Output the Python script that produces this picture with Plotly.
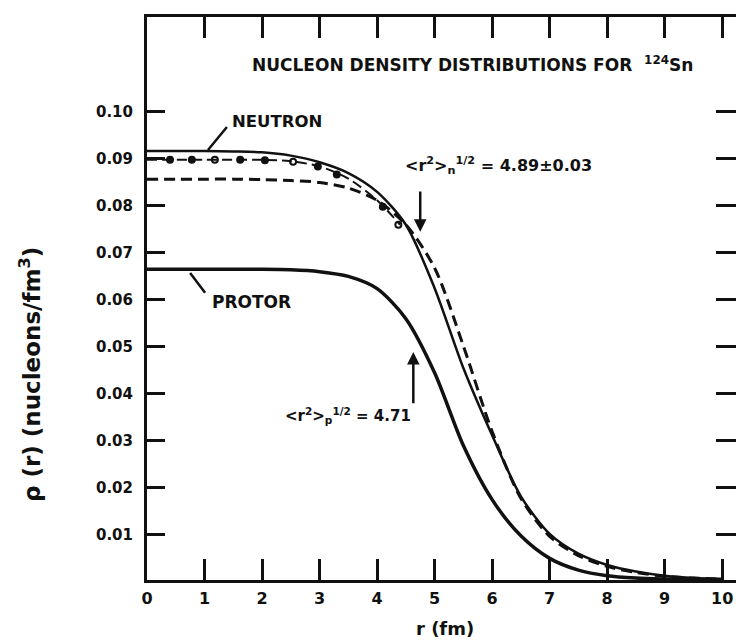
import plotly.graph_objects as go

# ---------------- data ----------------
r_grid = [0, 0.5, 1.0, 1.5, 2.0, 2.5, 3.0, 3.5, 4.0, 4.5, 5.0, 5.5, 6.0, 6.5, 7.0, 7.5, 8.0, 8.5, 9.0, 9.5, 10.0]

neutron_solid = [0.0917, 0.0917, 0.0917, 0.0916, 0.0914, 0.0907, 0.0893, 0.0870, 0.0830, 0.0760,
                 0.0625, 0.0455, 0.0312, 0.0182, 0.0102, 0.0060, 0.0036, 0.0022, 0.0013, 0.0008, 0.0006]

neutron_dashed = [0.0857, 0.0857, 0.0857, 0.0857, 0.0856, 0.0854, 0.0850, 0.0838, 0.0812, 0.0760,
                  0.0668, 0.0502, 0.0320, 0.0178, 0.0097, 0.0056, 0.0033, 0.0020, 0.0012, 0.0008, 0.0006]

proton_solid = [0.0665, 0.0665, 0.0665, 0.0665, 0.0665, 0.0664, 0.0660, 0.0650, 0.0624, 0.0560,
                0.0445, 0.0290, 0.0175, 0.0098, 0.0050, 0.0025, 0.0013, 0.0008, 0.0006, 0.0005, 0.0005]

dd_r = [0, 0.5, 1.0, 1.5, 2.0, 2.5, 3.0, 3.5, 4.0, 4.4]
neutron_dashdot = [0.0898, 0.0898, 0.0898, 0.0898, 0.0898, 0.0895, 0.0884, 0.0858, 0.0812, 0.0760]

pts_r = [0.40, 0.78, 1.18, 1.62, 2.05, 2.54, 2.97, 3.30, 4.10, 4.37]
pts_rho = [0.0898, 0.0898, 0.0898, 0.0898, 0.0897, 0.0894, 0.0884, 0.0867, 0.0798, 0.0760]
pts_symbol = ["circle", "circle", "circle-open", "circle", "circle", "circle-open",
              "circle", "circle", "circle", "circle-open"]

x_ticks = [0, 1, 2, 3, 4, 5, 6, 7, 8, 9, 10]
x_ticklabels = ["0", "1", "2", "3", "4", "5", "6", "7", "8", "9", "10"]
y_ticks = [0.01, 0.02, 0.03, 0.04, 0.05, 0.06, 0.07, 0.08, 0.09, 0.10]
y_ticklabels = ["0.01", "0.02", "0.03", "0.04", "0.05", "0.06", "0.07", "0.08", "0.09", "0.10"]

# ---------------- figure ----------------
FONT = "DejaVu Sans"
BLACK = "#111111"

fig = go.Figure()

fig.add_trace(go.Scatter(x=r_grid, y=neutron_dashed, mode="lines",
                         line=dict(color=BLACK, width=3, dash="11px,6px", shape="spline", smoothing=0.8),
                         hoverinfo="skip"))
fig.add_trace(go.Scatter(x=r_grid, y=neutron_solid, mode="lines",
                         line=dict(color=BLACK, width=2.5, shape="spline", smoothing=0.8),
                         hoverinfo="skip"))
fig.add_trace(go.Scatter(x=dd_r, y=neutron_dashdot, mode="lines",
                         line=dict(color=BLACK, width=2, dash="10px,5px", shape="spline", smoothing=0.8),
                         hoverinfo="skip"))
fig.add_trace(go.Scatter(x=pts_r, y=pts_rho, mode="markers",
                         marker=dict(color=BLACK, size=6, symbol=pts_symbol,
                                     line=dict(color=BLACK, width=2)),
                         hoverinfo="skip"))
fig.add_trace(go.Scatter(x=r_grid, y=proton_solid, mode="lines",
                         line=dict(color=BLACK, width=3.5, shape="spline", smoothing=0.8),
                         hoverinfo="skip"))
# helper trace so the right-hand tick axis is drawn
fig.add_trace(go.Scatter(x=[0, 0], y=[0.05, 0.05], yaxis="y2", mode="lines",
                         line=dict(width=0), hoverinfo="skip", showlegend=False))

axis_common = dict(showgrid=False, zeroline=False, linecolor=BLACK, tickcolor=BLACK)

fig.update_layout(
    width=736, height=644,
    margin=dict(l=147, r=0, t=17, b=64),
    plot_bgcolor="white", paper_bgcolor="white",
    showlegend=False,
    font=dict(family=FONT, color=BLACK),
    xaxis=dict(range=[0, 10.24], tickvals=x_ticks, ticktext=x_ticklabels,
               ticks="inside", ticklen=21, tickwidth=3,
               showline=True, linewidth=3, mirror="ticks",
               tickfont=dict(family=FONT, size=16, weight="bold", color=BLACK),
               ticklabelstandoff=2, **axis_common),
    yaxis=dict(range=[0.0004, 0.1202], tickvals=y_ticks, ticktext=y_ticklabels,
               ticks="inside", ticklen=18, tickwidth=3,
               showline=True, linewidth=3,
               tickfont=dict(family=FONT, size=15, weight="bold", color=BLACK),
               ticklabelstandoff=8, **axis_common),
    yaxis2=dict(range=[0.0004, 0.1202], overlaying="y", side="right",
                tickvals=y_ticks, ticks="inside", ticklen=20, tickwidth=3,
                showticklabels=False, showline=False, **axis_common),
)


def px_to_paper_x(px):
    return (px - 147) / 589.0


def px_to_paper_y(py):
    return (580 - py) / 563.0


annotations = []
annotations.append(dict(
    x=px_to_paper_x(250), y=px_to_paper_y(64), xref="paper", yref="paper",
    xanchor="left", yanchor="middle", showarrow=False,
    text="NUCLEON DENSITY DISTRIBUTIONS FOR  <sup>124</sup>Sn",
    font=dict(family=FONT, size=17, weight="bold", color=BLACK)))

annotations.append(dict(
    x=1.44, y=0.0979, xref="x", yref="y", xanchor="left", yanchor="middle", showarrow=False,
    text="NEUTRON", font=dict(family=FONT, size=16.5, weight="bold", color=BLACK)))
annotations.append(dict(
    x=1.10, y=0.0596, xref="x", yref="y", xanchor="left", yanchor="middle", showarrow=False,
    text="PROTOR", font=dict(family=FONT, size=17, weight="bold", color=BLACK)))

annotations.append(dict(
    x=4.45, y=0.0887, xref="x", yref="y", xanchor="left", yanchor="middle", showarrow=False,
    text="&lt;r<sup>2</sup>&gt;<sub>n</sub><sup>1/2</sup> = 4.89±0.03",
    font=dict(family=FONT, size=16, weight="bold", color=BLACK)))
annotations.append(dict(
    x=2.37, y=0.0355, xref="x", yref="y", xanchor="left", yanchor="middle", showarrow=False,
    text="&lt;r<sup>2</sup>&gt;<sub>p</sub><sup>1/2</sup> = 4.71",
    font=dict(family=FONT, size=15, weight="bold", color=BLACK)))

# arrows
annotations.append(dict(
    x=4.75, y=0.0745, ax=4.75, ay=0.0834, xref="x", yref="y", axref="x", ayref="y",
    text="", showarrow=True, arrowhead=2, arrowsize=1, arrowwidth=2.5, arrowcolor=BLACK))
annotations.append(dict(
    x=4.63, y=0.0489, ax=4.63, ay=0.0377, xref="x", yref="y", axref="x", ayref="y",
    text="", showarrow=True, arrowhead=2, arrowsize=1, arrowwidth=2.5, arrowcolor=BLACK))

# axis titles
annotations.append(dict(
    x=px_to_paper_x(445), y=px_to_paper_y(628), xref="paper", yref="paper",
    xanchor="center", yanchor="middle", showarrow=False,
    text="r (fm)", font=dict(family=FONT, size=18, weight="bold", color=BLACK)))
annotations.append(dict(
    x=px_to_paper_x(30), y=px_to_paper_y(375), xref="paper", yref="paper",
    xanchor="center", yanchor="middle", showarrow=False, textangle=-90,
    text="ρ (r) (nucleons/fm<sup>3</sup>)",
    font=dict(family=FONT, size=23, weight="bold", color=BLACK)))

fig.update_layout(annotations=annotations)

# leader lines for labels
fig.add_shape(type="line", x0=1.06, y0=0.0919, x1=1.39, y1=0.0968, xref="x", yref="y",
              line=dict(color=BLACK, width=2.5))
fig.add_shape(type="line", x0=0.75, y0=0.0657, x1=1.01, y1=0.0615, xref="x", yref="y",
              line=dict(color=BLACK, width=2.5))

fig.write_html("out.html")
